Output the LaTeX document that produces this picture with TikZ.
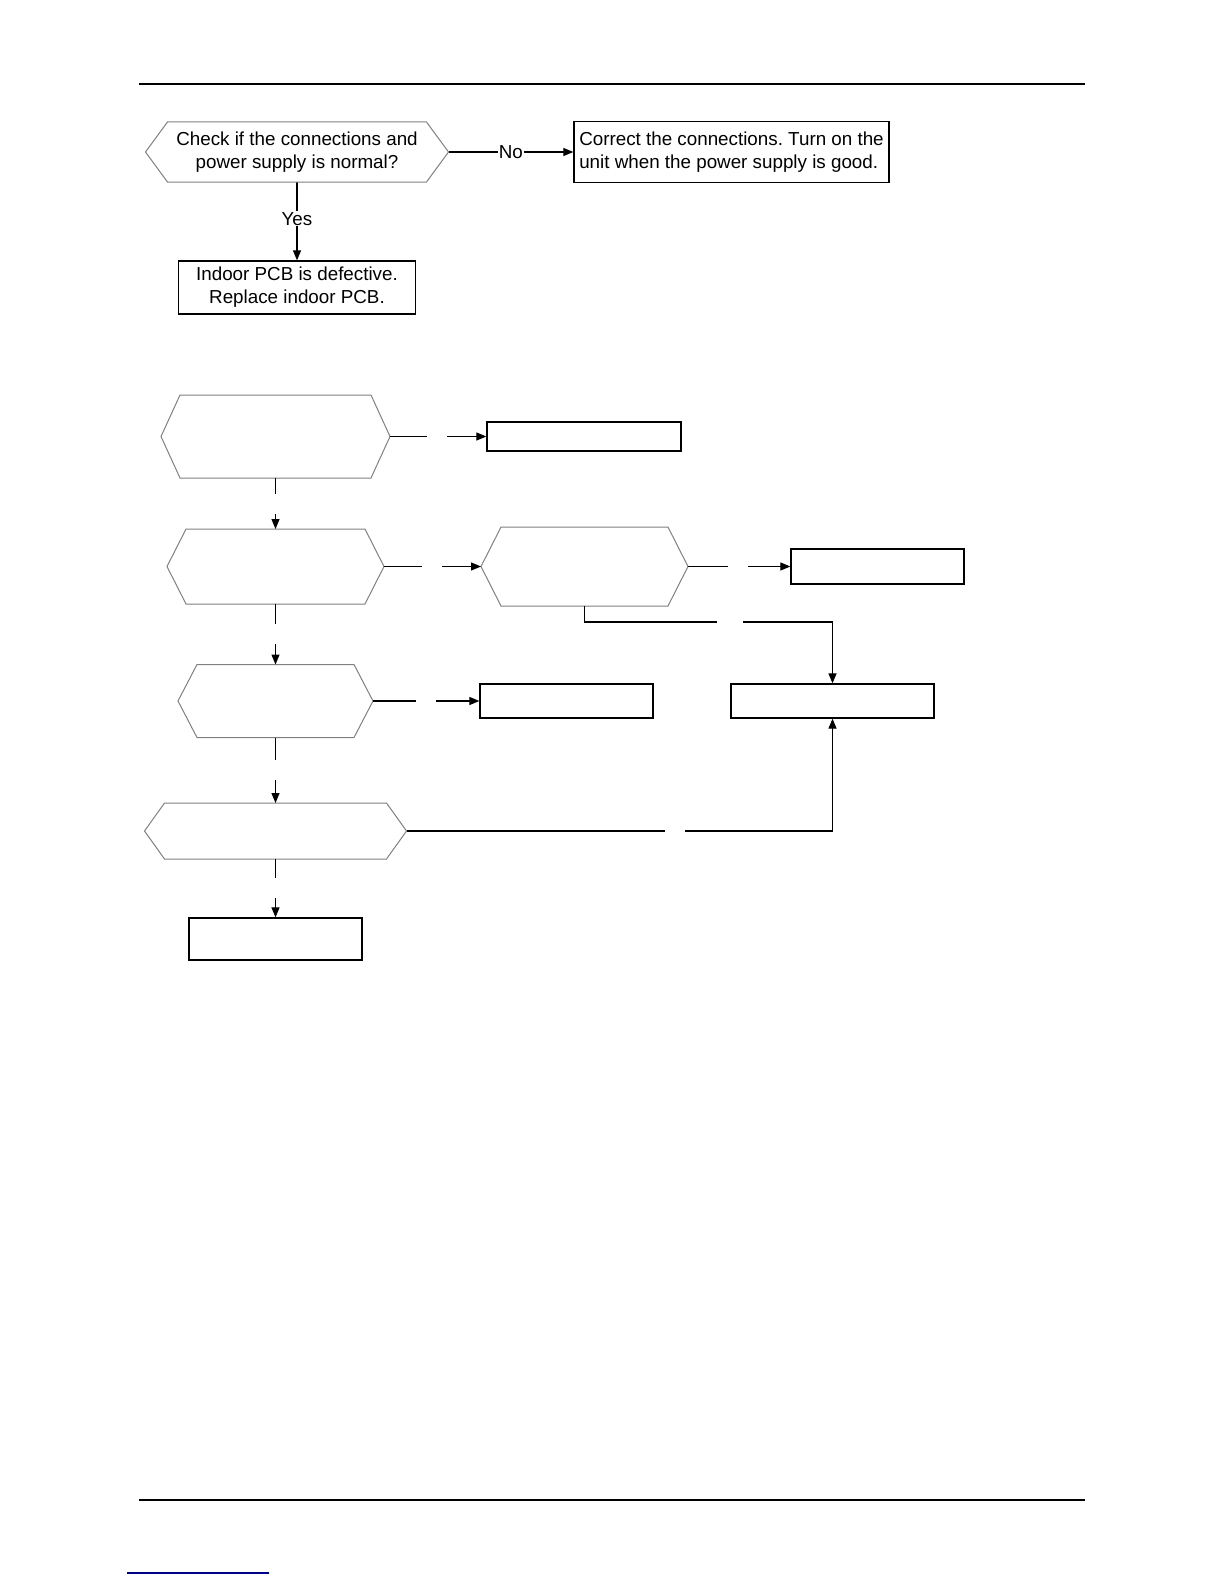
\documentclass[tikz,border=0pt]{standalone}
\usepackage{fontspec}
\setmainfont{Liberation Sans}
\frenchspacing
\usetikzlibrary{arrows.meta, positioning, calc}

\begin{document}
\begin{tikzpicture}[x=1pt, y=-1pt, >={Triangle[length=10pt, width=8pt]},
  box/.style={draw, line width=1.3pt, inner sep=3pt,
              font=\fontsize{18.8}{23.2}\selectfont},
  decision/.style={inner sep=0pt, outer sep=0pt, align=center,
              font=\fontsize{18.8}{23.2}\selectfont},
  hexline/.style={draw=black!50, line width=1pt, line join=miter},
  flow/.style={->, line width=1.2pt},
  lbl/.style={fill=white, inner sep=1pt, font=\fontsize{18.8}{23.2}\selectfont},
  gapmark/.style={fill=white, inner sep=0pt, minimum size=#1},
  gapmark/.default=20pt]
  \useasboundingbox (0,0) rectangle (1224,1584);

  % page rules
  \draw[line width=1.3pt] (139,84) -- (1085,84);
  \draw[line width=1.3pt] (139,1500) -- (1085,1500);
  \draw[line width=1.5pt, blue!55!black] (127,1573) -- (269,1573);

  % first chart
  \node[decision, minimum width=303pt, minimum height=60pt] (chk) at (297,152)
    {Check if the connections and\\power supply is normal?};
  \node[box, minimum width=315pt, minimum height=61pt, align=left] (fix) at (731.5,152)
    {Correct the connections. Turn on the\\unit when the power supply is good.};
  \node[box, minimum width=237pt, minimum height=53pt, align=center] (pcb) at (297,287.5)
    {Indoor PCB is defective.\\Replace indoor PCB.};

  \draw[flow] (chk.east) -- node[lbl] {No} (fix.west);
  \draw[flow] (chk.south) -- node[lbl, pos=0.47] {Yes} (pcb.north);

  % second chart
  \node[decision, minimum width=229pt, minimum height=83pt] (d1) at (275.5,436.5) {};
  \node[box, minimum width=194pt, minimum height=29pt] (b1) at (584,436.5) {};
  \node[decision, minimum width=217pt, minimum height=75pt] (d2) at (275.5,566.5) {};
  \node[decision, minimum width=207pt, minimum height=79pt] (d3) at (584.5,566.5) {};
  \node[box, minimum width=173pt, minimum height=35pt] (b2) at (877.5,566.5) {};
  \node[decision, minimum width=195pt, minimum height=73pt] (d4) at (275.5,701) {};
  \node[box, minimum width=173pt, minimum height=34pt] (b4) at (566.5,701) {};
  \node[box, minimum width=203pt, minimum height=34pt] (b3) at (832.5,701) {};
  \node[decision, minimum width=262pt, minimum height=56pt] (d5) at (275.5,831) {};
  \node[box, minimum width=173pt, minimum height=42pt] (b5) at (275.5,939) {};

  \foreach \h/\d in {chk/22, d1/19, d2/19, d3/20, d4/19, d5/20}
    \draw[hexline] (\h.west) -- ([xshift=\d pt]\h.north west)
      -- ([xshift=-\d pt]\h.north east) -- (\h.east)
      -- ([xshift=-\d pt]\h.south east) -- ([xshift=\d pt]\h.south west) -- cycle;

  \draw[flow] (d1.east) -- node[gapmark, pos=0.49] {} (b1.west);
  \draw[flow] (d1.south) -- node[gapmark] {} (d2.north);
  \draw[flow] (d2.east) -- node[gapmark, pos=0.49] {} (d3.west);
  \draw[flow] (d3.east) -- node[gapmark, pos=0.49] {} (b2.west);
  \draw[flow] (d3.south) -- ++(0,16) -| node[gapmark=26pt, pos=0.293] {} (b3.north);
  \draw[flow] (d2.south) -- node[gapmark] {} (d4.north);
  \draw[flow] (d4.east) -- node[gapmark, pos=0.495] {} (b4.west);
  \draw[flow] (d4.south) -- node[gapmark, pos=0.49] {} (d5.north);
  \draw[flow] (d5.east) -| node[gapmark, pos=0.315] {} (b3.south);
  \draw[flow] (d5.south) -- node[gapmark] {} (b5.north);
\end{tikzpicture}
\end{document}
